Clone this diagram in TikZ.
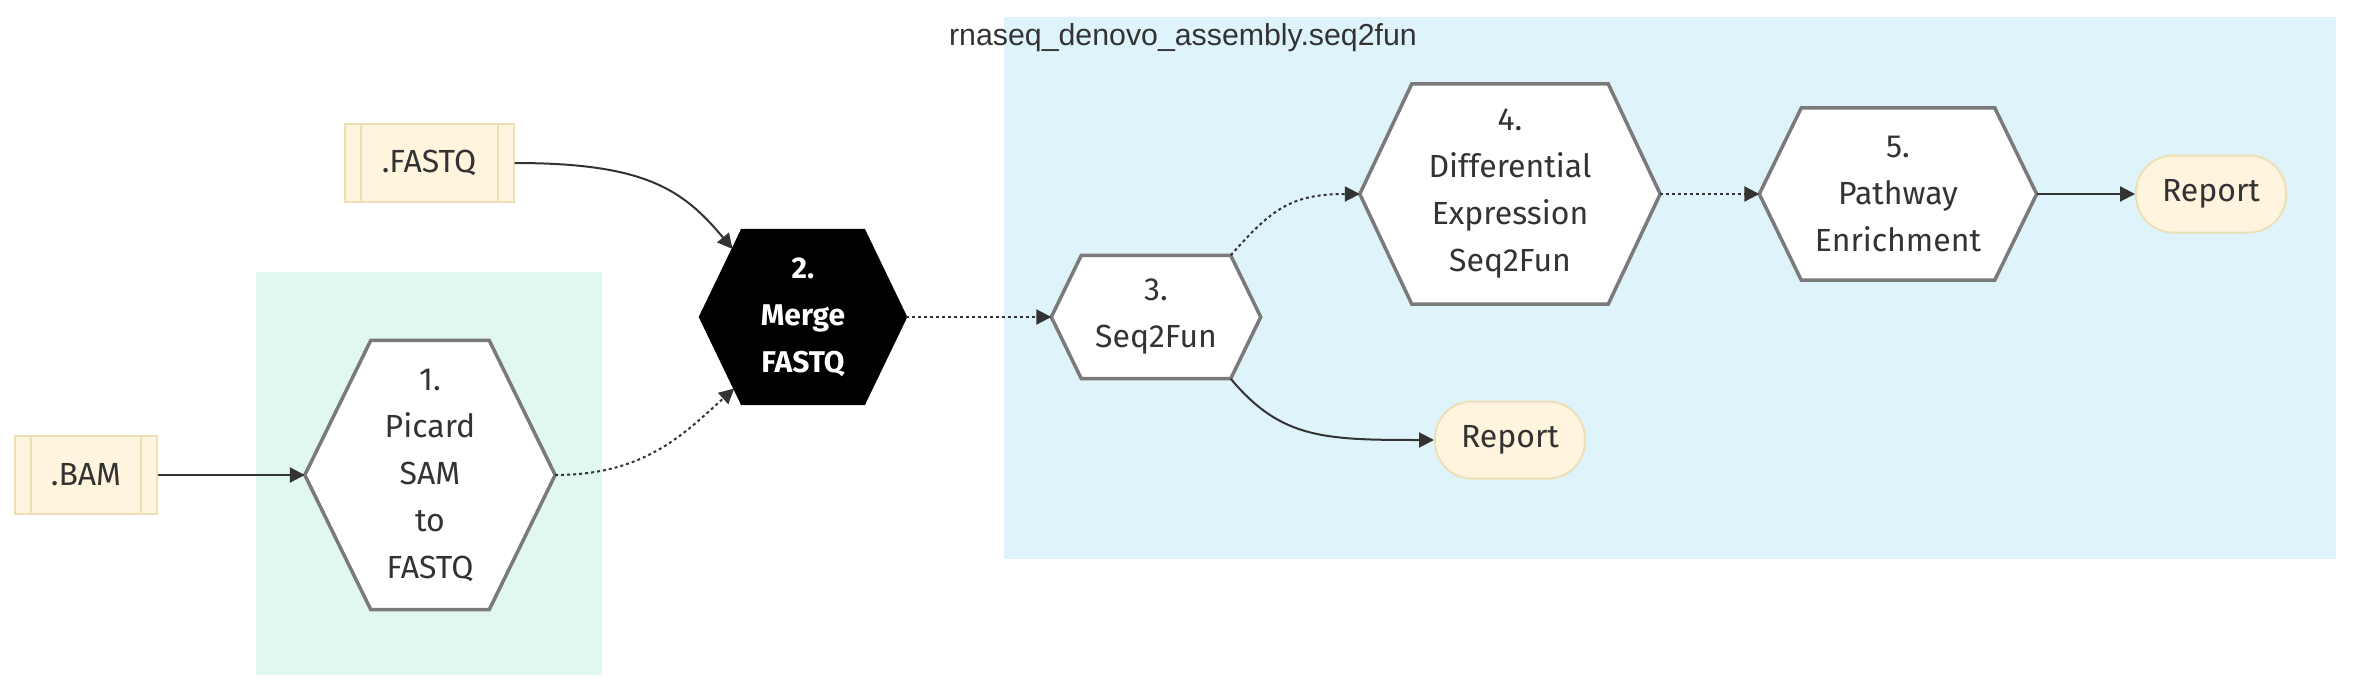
\documentclass[tikz,border=0pt]{standalone}
\usepackage{fontspec}
\setmainfont{Fira Sans}
\newfontfamily\titlefont{Liberation Sans}
\usetikzlibrary{arrows.meta,calc}
\definecolor{edgecol}{HTML}{333333}
\definecolor{hexborder}{HTML}{7A7A7A}
\definecolor{creamfill}{HTML}{FFF4DD}
\definecolor{creamborder}{HTML}{EEDFB4}
\definecolor{mintfill}{HTML}{E1F8F0}
\definecolor{bluefill}{HTML}{DEF4FA}
\definecolor{txtcol}{HTML}{333333}
\pgfdeclarelayer{clusterlayer}
\pgfdeclarelayer{hexlayer}
\pgfsetlayers{clusterlayer,hexlayer,main}
\tikzset{
  lbl/.style={font=\fontsize{32}{47}\selectfont, align=center, text=txtcol, inner sep=0pt},
  hexdraw/.style={draw=hexborder, line width=3.5pt, fill=white, line join=miter},
  hexblack/.style={draw=black, line width=2pt, fill=black},
  subr/.style={lbl, draw=creamborder, fill=creamfill, line width=2pt, minimum height=78pt,
    path picture={\draw[creamborder, line width=2pt]
      ([xshift=16pt]path picture bounding box.north west) -- ([xshift=16pt]path picture bounding box.south west)
      ([xshift=-16pt]path picture bounding box.north east) -- ([xshift=-16pt]path picture bounding box.south east);}},
  reportbox/.style={lbl, draw=creamborder, fill=creamfill, line width=2pt, minimum width=150pt, minimum height=77pt, rounded corners=37pt},
  link/.style={draw=edgecol, line width=2pt, -{Triangle[length=15pt,width=15pt]}},
  dotlink/.style={link, dash pattern=on 3pt off 3pt},
}
\newcommand\drawhex[3][hexdraw]{\begin{pgfonlayer}{hexlayer}\path[#1] (#2.west) -- ([xshift=#3pt]#2.north west) -- ([xshift=-#3pt]#2.north east) -- (#2.east) -- ([xshift=-#3pt]#2.south east) -- ([xshift=#3pt]#2.south west) -- cycle;\end{pgfonlayer}}
\begin{document}
\begin{tikzpicture}[x=1pt,y=-1pt]
\useasboundingbox (0,0) rectangle (2368,696);
% clusters
\begin{pgfonlayer}{clusterlayer}
\node[fill=mintfill, minimum width=346pt, minimum height=403pt, inner sep=0pt] (clmint) at (429,473.5) {};
\node[fill=bluefill, minimum width=1332pt, minimum height=542pt, inner sep=0pt] (clblue) at (1670,288) {};
\end{pgfonlayer}
\node[font=\titlefont\fontsize{30.3}{36}\selectfont, text=txtcol, inner sep=0pt] (title) at (1183,38) {rnaseq\_denovo\_assembly.seq2fun};
% inputs
\node[subr, minimum width=142pt] (bam) at (86,475) {.BAM};
\node[subr, minimum width=169pt] (fq) at (429,163) {.FASTQ};
% process nodes
\node[lbl, minimum width=250pt, minimum height=269pt] (n1) at (430,475) {1.\\Picard\\SAM\\to\\FASTQ};
\drawhex{n1}{66}
\node[lbl, text=white, font=\fontsize{30}{47}\selectfont\bfseries, minimum width=206pt, minimum height=174pt] (n2) at (803,317) {2.\\Merge\\FASTQ};
\drawhex[hexblack]{n2}{42}
\node[lbl, minimum width=209pt, minimum height=123pt] (n3) at (1156,317) {3.\\Seq2Fun};
\drawhex{n3}{30}
\node[lbl, minimum width=300pt, minimum height=220pt] (n4) at (1510,194) {4.\\Differential\\Expression\\Seq2Fun};
\drawhex{n4}{52}
\node[lbl, minimum width=277pt, minimum height=172pt] (n5) at (1898,194) {5.\\Pathway\\Enrichment};
\drawhex{n5}{42}
% reports
\node[reportbox] (rep1) at (2211,194) {Report};
\node[reportbox] (rep2) at (1510,440) {Report};
% anchor points on slanted hexagon edges
\coordinate (n2a) at ($(n2.west)!0.78!([xshift=42pt]n2.north west)$);
\coordinate (n2b) at ($(n2.west)!0.82!([xshift=42pt]n2.south west)$);
\coordinate (n3tr) at ([xshift=-30pt]n3.north east);
\coordinate (n3br) at ([xshift=-30pt]n3.south east);
% connectors
\draw[link] (bam.east) -- (n1.west);
\draw[link] (fq.east) .. controls +(130,0) and +(-50,-60) .. (n2a);
\draw[dotlink] (n1.east) .. controls +(90,0) and +(-50,45) .. (n2b);
\draw[dotlink] (n2.east) -- (n3.west);
\draw[dotlink] (n3tr) .. controls +(40,-45) and +(-70,0) .. (n4.west);
\draw[dotlink] (n4.east) -- (n5.west);
\draw[link] (n5.east) -- (rep1.west);
\draw[link] (n3br) .. controls +(50,60) and +(-110,0) .. (rep2.west);
\end{tikzpicture}
\end{document}
